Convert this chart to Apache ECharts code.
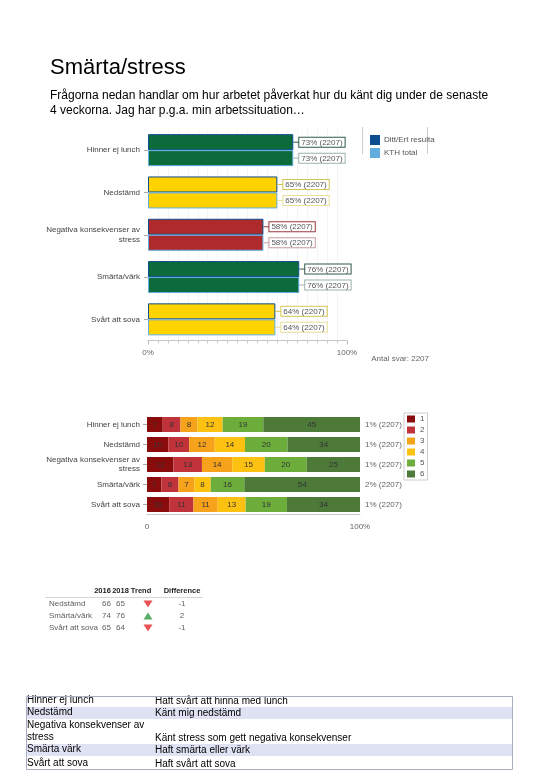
<!DOCTYPE html>
<html><head><meta charset="utf-8">
<script src="https://cdn.jsdelivr.net/npm/echarts@6/dist/echarts.min.js"></script>
<style>html,body{margin:0;padding:0;background:#fff}#c{width:540px;height:780px}</style>
</head><body><div id="c"></div>
<script>
// ---------- data ----------
const categories = ['Hinner ej lunch','Nedstämd','Negativa konsekvenser av\nstress','Smärta/värk','Svårt att sova'];
const yourResult = [73,65,58,76,64];
const kthTotal = [73,65,58,76,64];
const respondents = 2207;

const scaleLevels = ['1','2','3','4','5','6'];
const level1 = [7.4,10.0,12.4,6.8,10.4];
const level2 = [8.3,9.8,13.4,8.0,11.4];
const level3 = [8.0,12.0,14.2,7.4,11.4];
const level4 = [11.8,14.2,15.3,7.7,13.1];
const level5 = [19.1,20.0,19.7,15.8,19.4];
const level6 = [45.4,34.0,25.0,54.3,34.3];
const noAnswer = [1,1,1,2,1];

const trendRows = ['Nedstämd','Smärta/värk','Svårt att sova'];
const trendHeaders = ['2016','2018','Trend','Difference'];
const trend2016 = [66,74,65];
const trend2018 = [65,76,64];
const trendDiff = [-1,2,-1];

const defTerms = ['Hinner ej lunch','Nedstämd','Negativa konsekvenser av\nstress','Smärta värk','Svårt att sova'];
const defTexts = ['Haft svårt att hinna med lunch','Känt mig nedstämd','Känt stress som gett negativa konsekvenser','Haft smärta eller värk','Haft svårt att sova'];

// ---------- styles ----------
const FONT = '"Liberation Sans", Arial, sans-serif';
const GREEN = '#0c6b3a', YELLOW = '#ffd200', RED = '#ae2a2d';
const catColors = [GREEN, YELLOW, RED, GREEN, YELLOW];
const catBorderDark = ['#2f5a45','#d2c452','#9a3a3c','#2f5a45','#d2c452'];
const catBorderLight = ['#9ab3a6','#e8de9a','#c89a9b','#9ab3a6','#e8de9a'];
const stackColors = ['#8a0b0b','#c1333b','#f7a21b','#fdc112','#6cad3b','#4d7a39'];
const levels = [level1,level2,level3,level4,level5,level6];

function makeRich(borders){
  const rich = {};
  borders.forEach((c,i)=>{
    rich['l'+i] = {width:6, height:1, backgroundColor:c};
    rich['b'+i] = {fontSize:8, color:'#555', fontFamily:FONT, backgroundColor:'#fff', borderColor:c, borderWidth:1, padding:[1,2,0,2]};
  });
  return rich;
}

function topSeries(name, vals, border, labelBorders){
  return {
    type:'bar', name, xAxisIndex:0, yAxisIndex:0, barWidth:16, barGap:'0%',
    itemStyle:{color:border, borderColor:border, borderWidth:1},
    data: vals.map((v,i)=>({value:v, itemStyle:{color:catColors[i], borderColor:border}})),
    label:{show:true, position:'right', distance:0, rich:makeRich(labelBorders),
      formatter:p=>'{l'+p.dataIndex+'|}{b'+p.dataIndex+'|'+p.value+'% ('+respondents+')}'}
  };
}

const series = [
  topSeries('Ditt/Ert resultat', yourResult, '#0d4e91', catBorderDark),
  topSeries('KTH total', kthTotal, '#62ade0', catBorderLight)
];
scaleLevels.forEach((name,k)=>{
  series.push({
    type:'bar', name, stack:'dist', xAxisIndex:1, yAxisIndex:1, barWidth:15,
    itemStyle:{color:stackColors[k]},
    data: levels[k],
    label:{show:true, position:'inside', fontSize:8, color:'#333', fontFamily:FONT, formatter:p=>Math.round(p.value)}
  });
});

// trend table columns (x offsets inside grid 2)
const colLabel = 9, col2016 = 71, col2018 = 85, colTrend = 108, colDiff = 142;
const cellLabel = (align)=>({show:true, position:'inside', align, fontSize:8, color:'#333', fontFamily:FONT});
series.push({type:'scatter', xAxisIndex:2, yAxisIndex:3, symbolSize:0.1, itemStyle:{color:'transparent'}, silent:true,
  data: trendRows.map((r,i)=>[colLabel,i]), label:Object.assign(cellLabel('left'),{formatter:p=>trendRows[p.dataIndex]})});
series.push({type:'scatter', xAxisIndex:2, yAxisIndex:3, symbolSize:0.1, itemStyle:{color:'transparent'}, silent:true,
  data: trend2016.map((v,i)=>[col2016,i]), label:Object.assign(cellLabel('right'),{formatter:p=>String(trend2016[p.dataIndex])})});
series.push({type:'scatter', xAxisIndex:2, yAxisIndex:3, symbolSize:0.1, itemStyle:{color:'transparent'}, silent:true,
  data: trend2018.map((v,i)=>[col2018,i]), label:Object.assign(cellLabel('right'),{formatter:p=>String(trend2018[p.dataIndex])})});
series.push({type:'scatter', xAxisIndex:2, yAxisIndex:3, symbol:'triangle', symbolSize:[9,7], silent:true,
  data: trendDiff.map((d,i)=>({value:[colTrend,i], symbolRotate:d<0?180:0, itemStyle:{color:d<0?'#e2252b':'#2f9b3f'}}))});
series.push({type:'scatter', xAxisIndex:2, yAxisIndex:3, symbolSize:0.1, itemStyle:{color:'transparent'}, silent:true,
  data: trendDiff.map((v,i)=>[colDiff,i]), label:Object.assign(cellLabel('center'),{formatter:p=>String(trendDiff[p.dataIndex])})});

// ---------- graphics ----------
const graphic = [];
graphic.push({type:'text', left:50, top:57, style:{text:'Smärta/stress', font:'22px '+FONT, fill:'#000'}});
graphic.push({type:'text', left:50, top:88, style:{text:'Frågorna nedan handlar om hur arbetet påverkat hur du känt dig under de senaste\n4 veckorna. Jag har p.g.a. min arbetssituation…', font:'12px '+FONT, fill:'#000', lineHeight:15}});
graphic.push({type:'line', shape:{x1:362.5,y1:127,x2:362.5,y2:154}, style:{stroke:'#ccc', lineWidth:1}});
graphic.push({type:'line', shape:{x1:427.5,y1:127,x2:427.5,y2:154}, style:{stroke:'#ccc', lineWidth:1}});
graphic.push({type:'text', right:540-429, top:355, style:{text:'Antal svar: '+respondents, font:'8px '+FONT, fill:'#666'}});
// trend header
const headerX = [102.5,120.5,141,182];
trendHeaders.forEach((h,i)=>{
  graphic.push({type:'text', x:headerX[i], y:591, style:{text:h, font:'bold 7.5px '+FONT, fill:'#222', align:'center', verticalAlign:'middle'}});
});
graphic.push({type:'line', shape:{x1:45,y1:597.5,x2:203,y2:597.5}, style:{stroke:'#d6d6d6', lineWidth:1}});
// definitions table
const rowEdges = [696,707,719,744,756,770];
defTerms.forEach((t,i)=>{
  const y0 = rowEdges[i], y1 = rowEdges[i+1];
  if (i%2===1) graphic.push({type:'rect', shape:{x:26,y:y0,width:487,height:y1-y0}, style:{fill:'#dfe2f3'}});
  graphic.push({type:'text', x:27, y:y1-1, style:{text:t, font:'10px '+FONT, fill:'#000', verticalAlign:'bottom', lineHeight:12}});
  graphic.push({type:'text', x:155, y:y1-1, style:{text:defTexts[i], font:'10px '+FONT, fill:'#000', verticalAlign:'bottom'}});
});
graphic.push({type:'rect', shape:{x:26.5,y:696.5,width:486,height:73}, style:{fill:'none', stroke:'#a7aec4', lineWidth:1}});

const option = {
  animation:false,
  textStyle:{fontFamily:FONT},
  graphic,
  legend:[
    {data:['Ditt/Ert resultat','KTH total'], orient:'vertical', left:365, top:130, itemWidth:8, itemHeight:8, itemGap:3,
     icon:'rect', textStyle:{fontSize:8, color:'#555', width:52, overflow:'truncate', ellipsis:''}, selectedMode:false},
    {data:scaleLevels, orient:'vertical', left:404, top:413, itemWidth:8, itemHeight:7, itemGap:3, padding:[2,3],
     icon:'rect', borderColor:'#ccc', borderWidth:1, textStyle:{fontSize:8, color:'#555'}, selectedMode:false}
  ],
  grid:[
    {left:148, right:193, top:129, height:211.5},
    {left:147, right:180, top:414.5, height:100},
    {left:40, width:170, top:598, height:36}
  ],
  xAxis:[
    {gridIndex:0, type:'value', min:0, max:100, interval:100,
     axisLine:{show:true, lineStyle:{color:'#c8c8c8'}}, axisTick:{show:true, length:4, lineStyle:{color:'#bbb'}},
     minorTick:{show:true, splitNumber:20, length:3, lineStyle:{color:'#ccc'}},
     splitLine:{show:false}, minorSplitLine:{show:true, lineStyle:{color:'#f5f5f5'}},
     axisLabel:{fontSize:8, color:'#666', formatter:v=>v+'%'}},
    {gridIndex:1, type:'value', min:0, max:100, interval:100,
     axisLine:{show:true, lineStyle:{color:'#c8c8c8'}}, axisTick:{show:false}, splitLine:{show:false},
     axisLabel:{fontSize:8, color:'#666', formatter:v=>v===0?'0':v+'%'}},
    {gridIndex:2, type:'value', min:0, max:170, show:false}
  ],
  yAxis:[
    {gridIndex:0, type:'category', data:categories, inverse:true,
     axisLine:{show:false}, axisTick:{show:true, alignWithLabel:true, length:4, lineStyle:{color:'#aaa'}},
     axisLabel:{fontSize:8, color:'#444', margin:8, lineHeight:10}},
    {gridIndex:1, type:'category', data:categories, inverse:true,
     axisLine:{show:false}, axisTick:{show:true, alignWithLabel:true, length:4, lineStyle:{color:'#aaa'}},
     axisLabel:{fontSize:8, color:'#444', margin:7, lineHeight:9}},
    {gridIndex:1, type:'category', position:'right', inverse:true, data:noAnswer.map(v=>v+'% ('+respondents+')'),
     axisLine:{show:false}, axisTick:{show:false}, axisLabel:{fontSize:8, color:'#666', margin:5}},
    {gridIndex:2, type:'category', data:trendRows, inverse:true, show:false}
  ],
  series
};
echarts.init(document.getElementById('c'), null, {renderer:'canvas'}).setOption(option);
</script>
</body></html>
